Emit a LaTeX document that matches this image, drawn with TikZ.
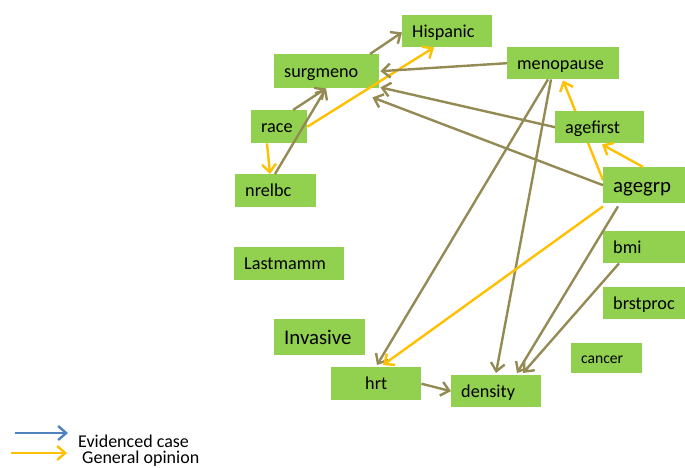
\documentclass[tikz,border=0pt]{standalone}
\usepackage{fontspec}
\setmainfont{Carlito}
\usetikzlibrary{arrows.meta,calc}
\pgfdeclarelayer{background}
\pgfsetlayers{background,main}
\definecolor{boxgreen}{HTML}{92D050}
\definecolor{olive}{HTML}{948A54}
\definecolor{opinion}{HTML}{FFC000}
\definecolor{evidence}{HTML}{4F81BD}
\newcommand\varstrut{\rule[-0.24em]{0pt}{1.14em}}
\tikzset{
  var/.style args={#1/#2}{fill=boxgreen, draw=none, anchor=north west,
    minimum width=#1pt, minimum height=#2pt, text width=#1pt-20pt,
    execute at begin node=\varstrut,
    inner xsep=10pt, inner ysep=0pt, align=left, font=\fontsize{18.2}{21}\selectfont},
  big/.style={font=\fontsize{20.8}{24}\selectfont},
  small/.style={font=\fontsize{15.6}{18}\selectfont},
  link/.style={line width=2.4pt, -{Straight Barb[length=8pt,width=14pt,line width=2.4pt]}},
  evid/.style={link, olive},
  opin/.style={link, opinion},
  legtext/.style={anchor=base west, inner sep=0pt, font=\fontsize{18}{21}\selectfont},
}
\begin{document}
\begin{tikzpicture}[x=1pt, y=-1pt]
\useasboundingbox (0,0) rectangle (685,468);

% variables
\node[var=90/32]  (hisp) at (402,15)  {Hispanic};
\node[var=105/34] (surg) at (274,54)  {surgmeno};
\node[var=56/33]  (race) at (251,110) {race};
\node[var=81/33]  (nrel) at (235,174) {nrelbc};
\node[var=112/32] (meno) at (507,47)  {menopause};
\node[var=89/32]  (agef) at (555,111) {agefirst};
\node[var=82/36, big] (ageg) at (603,167) {agegrp};
\node[var=110/33] (last) at (234,247) {Lastmamm};
\node[var=91/36, big] (inv) at (274,319) {Invasive};
\node[var=90/33, align=center] (hrt) at (331,367) {hrt};
\node[var=90/32]  (dens) at (451,375) {density};
\node[var=82/32]  (bmi)  at (603,231) {bmi};
\node[var=82/32]  (brst) at (603,287) {brstproc};
\node[var=71/30, small] (canc) at (571,343) {cancer};

% this link runs behind the agefirst box
\begin{pgfonlayer}{background}
\draw[opin] ($(ageg.west)+(0,-5)$) -- ($(meno.south west)+(56,1)$);
\end{pgfonlayer}

% links
\draw[evid] ($(surg.north west)+(96,0)$) -- ($(hisp.south west)+(0,-15)$);
\draw[opin] (race.east) -- ($(hisp.south west)+(32,0)$);
\draw[evid] ($(race.north west)+(42,0)$) -- ($(surg.south west)+(52,0)$);
\draw[evid] ($(nrel.north west)+(40,0)$) -- ($(surg.south west)+(52,0)$);
\draw[opin] ($(race.south west)+(16,0)$) -- ($(nrel.north west)+(35,0)$);
\draw[evid] (meno.west) -- ($(surg.east)+(1,0)$);
\draw[evid] (agef.west) -- ($(surg.south east)+(1,-1)$);
\draw[evid] (ageg.west) -- ($(surg.south east)+(-7,9)$);
\draw[evid] ($(meno.south west)+(41,0)$) -- ($(hrt.north west)+(46,-2)$);
\draw[evid] ($(meno.south west)+(44,0)$) -- ($(dens.north west)+(45,-2)$);
\draw[opin] ($(ageg.north west)+(40,0)$) -- ($(agef.south west)+(47,1)$);
\draw[opin] ($(ageg.south west)+(0,3)$) -- ($(hrt.north west)+(52,-2)$);
\draw[evid] ($(ageg.south west)+(15,3)$) -- ($(dens.north west)+(66,-2)$);
\draw[evid] ($(bmi.south west)+(16,0)$) -- ($(dens.north west)+(72,-2)$);
\draw[evid] (hrt.east) -- (dens.west);

% legend
\coordinate (e1) at (15,433);
\coordinate (e2) at (68,433);
\coordinate (o1) at (11,453);
\coordinate (o2) at (67,453);
\draw[link, evidence] (e1) -- (e2);
\draw[link, opinion] (o1) -- (o2);
\node[legtext] (etext) at (78,447) {Evidenced case};
\node[legtext] (otext) at (82,463.5) {General opinion};
\end{tikzpicture}
\end{document}
